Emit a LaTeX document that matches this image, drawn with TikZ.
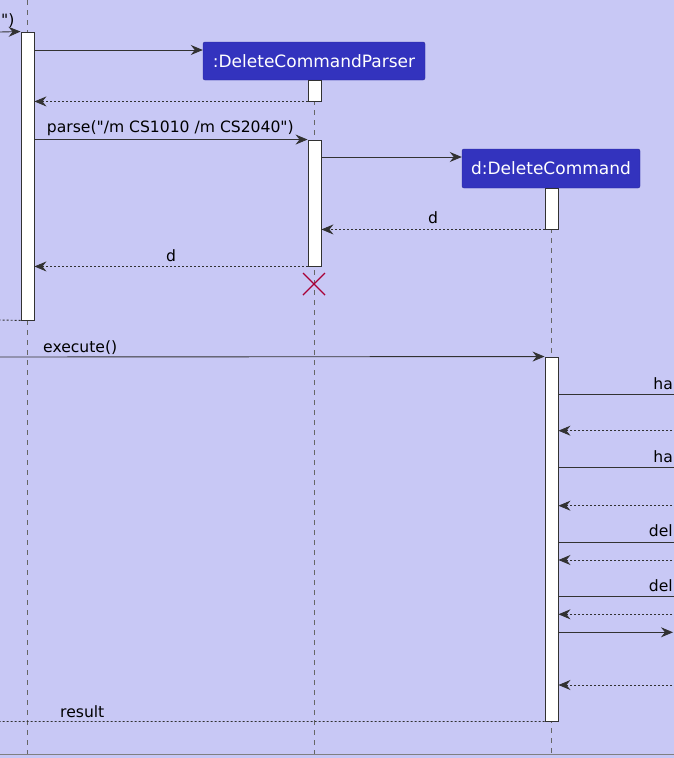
\documentclass[tikz,border=0pt]{standalone}
\usepackage{fontspec}
\setmainfont{DejaVu Sans}
\usetikzlibrary{arrows.meta,positioning,calc}
\definecolor{bgviolet}{RGB}{200,200,245}
\definecolor{partblue}{RGB}{51,51,190}
\definecolor{linegray}{RGB}{50,50,50}
\definecolor{crossred}{RGB}{168,0,54}

\begin{document}
\begin{tikzpicture}[x=1pt, y=-1pt, font=\fontsize{15.6}{18}\selectfont,
    participant/.style={draw=partblue!80!black, fill=partblue, rounded corners=2pt, text=white,
      font=\fontsize{17}{20}\selectfont, inner sep=0pt},
    act/.style={draw=linegray, fill=white, minimum width=13pt, inner sep=0pt, line width=0.9pt},
    lifeline/.style={draw=gray!80!black, dash pattern=on 5pt off 5pt, line width=0.7pt},
    msg/.style={draw=linegray, line width=0.9pt, -{Stealth[length=12pt,width=10pt,inset=4pt]}},
    ret/.style={msg, dash pattern=on 2pt off 2pt},
    lbl/.style={inner sep=0pt, text=black}]
\fill[bgviolet] (0,0) rectangle (674,758);
\useasboundingbox (0,0) rectangle (674,758);
\clip (0,0) rectangle (674,758);

\node[participant, minimum width=222pt, minimum height=38pt] (parser) at (314,61) {:DeleteCommandParser};
\node[participant, minimum width=178pt, minimum height=39pt] (cmd) at (551,168.5) {d:DeleteCommand};

\draw[lifeline] (27.5,0) -- (27.5,758);
\draw[lifeline] (parser.south) -- (314,758);
\draw[lifeline] (cmd.south) -- (551,758);
\draw[gray] (0,754) -- (674,754);

\node[act, minimum height=288pt] (a1) at (27.5,176) {};
\node[act, minimum height=21pt] (a2) at (314.5,90.5) {};
\node[act, minimum height=126pt] (a3) at (314.5,203) {};
\node[act, minimum height=41pt] (a4) at (551.5,208.5) {};
\node[act, minimum height=364pt] (a5) at (551.5,539) {};

\coordinate (in1) at (0,32);
\coordinate (out1) at (0,320);
\coordinate (in2) at (0,357);
\coordinate (out2) at (0,721.5);

\draw[msg] (in1) -- (a1.north west);
\node[lbl, anchor=base west] (q) at (1,25) {\textquotedbl)};
\draw[msg] (a1.east |- 0,50) -- (parser.west |- 0,50);
\draw[ret] (a2.south west) -- (a1.east |- a2.south);
\draw[msg] (a1.east |- a3.north) -- (a3.north west) node[lbl, pos=0, anchor=base west, xshift=12pt, yshift=7pt] (p) {parse(\textquotedbl/m CS1010 /m CS2040\textquotedbl)};
\draw[msg] (a3.east |- 0,157) -- (cmd.west |- 0,157);
\draw[ret] (a4.south west) -- (a3.east |- a4.south) node[lbl, midway, anchor=base, yshift=6pt] (d1) {d};
\draw[ret] (a3.south west) -- (a1.east |- a3.south) node[lbl, midway, anchor=base, yshift=5pt] (d2) {d};
\draw[crossred, line width=1.4pt] (303,273) -- (325,295) (303,295) -- (325,273);
\draw[ret, -] (a1.south west) -- (out1);

\draw[msg] (in2) -- (a5.north west);
\node[lbl, anchor=base west] (ex) at (43,352) {execute()};

\foreach \y [count=\i] in {394.3, 467.7, 542, 596.3} {
  \coordinate (r\i) at (700,\y);
  \draw[msg] (a5.east |- r\i) -- (r\i);
}
\node[lbl, anchor=base east] (h1) at (673,389) {ha};
\node[lbl, anchor=base east] (h2) at (673,462) {ha};
\node[lbl, anchor=base east] (h3) at (673,536) {del};
\node[lbl, anchor=base east] (h4) at (673,591) {del};
\foreach \y [count=\i] in {430.7, 505.7, 560, 614.3, 685} {
  \coordinate (b\i) at (700,\y);
  \draw[ret] (b\i) -- (a5.east |- b\i);
}
\coordinate (c1) at (673,632.3);
\draw[msg] (a5.east |- c1) -- (c1);

\draw[ret, -] (a5.south west) -- (out2);
\node[lbl, anchor=base west] (res) at (60,717) {result};
\end{tikzpicture}
\end{document}
